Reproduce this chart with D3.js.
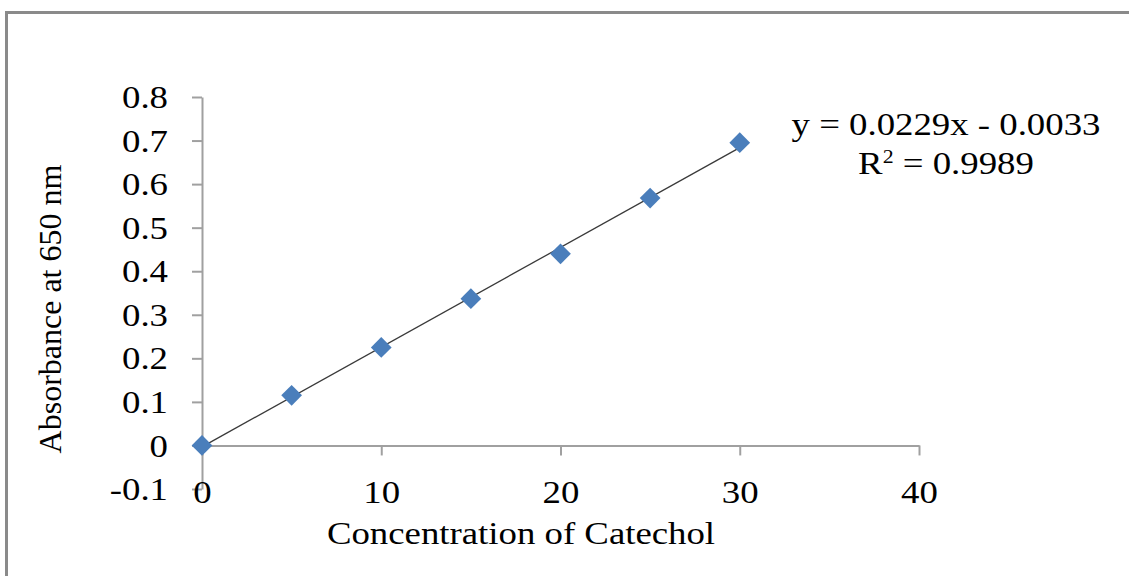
<!DOCTYPE html>
<html>
<head>
<meta charset="utf-8">
<script src="https://cdn.jsdelivr.net/npm/d3@7"></script>
<style>
  html, body { margin: 0; padding: 0; background: #fff; }
  svg text { font-family: "Liberation Serif", "Times New Roman", serif; fill: #000; }
</style>
</head>
<body>
<svg id="chart" width="1129" height="576"></svg>
<script>
// ---- data ----
const concentration = [0, 5, 10, 15, 20, 25, 30];
const absorbance = [0, 0.115, 0.225, 0.337, 0.44, 0.568, 0.695];
const trendSlope = 0.0229;
const trendIntercept = -0.0033;
const r2Text = "0.9989";
const xTickValues = [0, 10, 20, 30, 40];
const yTickValues = [-0.1, 0, 0.1, 0.2, 0.3, 0.4, 0.5, 0.6, 0.7, 0.8];
const xTitle = "Concentration of Catechol";
const yTitle = "Absorbance at 650 nm";

const svg = d3.select("#chart");
const SX = 1.15; // horizontal stretch of the text in the reference
const FS = 32;

// outer frame
svg.append("rect").attr("x", 6.5).attr("y", 12.5).attr("width", 1140).attr("height", 600)
  .attr("fill", "none").attr("stroke", "#8a8a8a").attr("stroke-width", 3);

const x = d3.scaleLinear().domain([0, 40]).range([202, 919]);
const y = d3.scaleLinear().domain([-0.1, 0.8]).range([489, 97]);

const axisColor = "#a0a0a0";

// y axis
const yAxis = svg.append("g").attr("transform", `translate(${x(0)},0)`)
  .call(d3.axisLeft(y).tickValues(yTickValues).tickSize(10).tickSizeOuter(0)
    .tickFormat(d => String(Math.round(d * 10) / 10)));
yAxis.select(".domain").attr("stroke", axisColor).attr("stroke-width", 2);
yAxis.selectAll(".tick line").attr("stroke", axisColor).attr("stroke-width", 2);
yAxis.selectAll(".tick text")
  .attr("x", -34 / SX).attr("dy", "0.33em")
  .attr("transform", `scale(${SX},1)`)
  .style("font-size", FS + "px").style("font-family", "Liberation Serif").attr("fill", "#000");

// x axis at y = 0
const xAxis = svg.append("g").attr("transform", `translate(0,${y(0)})`)
  .call(d3.axisBottom(x).tickValues(xTickValues).tickSize(10).tickSizeOuter(0)
    .tickFormat(d => String(d)));
xAxis.select(".domain").attr("stroke", axisColor).attr("stroke-width", 2);
xAxis.selectAll(".tick line").attr("stroke", axisColor).attr("stroke-width", 2);
xAxis.selectAll(".tick text")
  .attr("x", 0).attr("y", 58).attr("dy", 0)
  .attr("transform", `scale(${SX},1)`)
  .style("font-size", FS + "px").style("font-family", "Liberation Serif").attr("fill", "#000");

// trendline
const tx0 = d3.min(concentration), tx1 = d3.max(concentration);
svg.append("line")
  .attr("x1", x(tx0)).attr("y1", y(trendSlope * tx0 + trendIntercept))
  .attr("x2", x(tx1)).attr("y2", y(trendSlope * tx1 + trendIntercept))
  .attr("stroke", "#3a3a3a").attr("stroke-width", 1.3);

// markers
svg.append("g").selectAll("path").data(concentration).join("path")
  .attr("d", d3.symbol().type(d3.symbolSquare).size(215))
  .attr("transform", (d, i) => `translate(${x(d)},${y(absorbance[i])}) rotate(45)`)
  .attr("fill", "#4a7ebb");

// helper for horizontally stretched text
function stretchedText(cx, baseline, parts) {
  const g = svg.append("g").attr("transform", `translate(${cx},${baseline}) scale(${SX},1)`);
  const t = g.append("text").attr("text-anchor", "middle").style("font-size", FS + "px");
  parts(t);
  return t;
}

// equation
stretchedText(946, 135, t => t.text(`y = ${trendSlope}x - ${Math.abs(trendIntercept).toFixed(4)}`));
stretchedText(946, 174, t => {
  t.append("tspan").text("R");
  t.append("tspan").attr("dy", -11).style("font-size", "19px").text("2");
  t.append("tspan").attr("dy", 11).text(" = " + r2Text);
});

// x title
stretchedText(521, 544, t => t.text(xTitle));

// y title
svg.append("text")
  .attr("transform", `translate(61,309) rotate(-90)`)
  .attr("text-anchor", "middle").style("font-size", FS + "px")
  .text(yTitle);
</script>
</body>
</html>
